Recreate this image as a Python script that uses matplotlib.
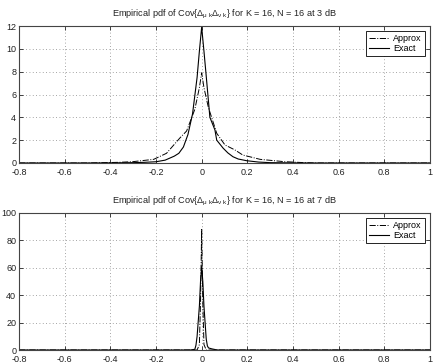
import matplotlib
matplotlib.use("Agg")
import matplotlib.pyplot as plt

plt.rcParams["font.family"] = ["Liberation Sans", "DejaVu Sans"]
plt.rcParams["mathtext.fontset"] = "custom"
plt.rcParams["mathtext.rm"] = "Liberation Sans"
plt.rcParams["mathtext.it"] = "Liberation Sans"

# top panel: 3 dB
x_exact_3 = [-0.8, -0.5, -0.4, -0.3, -0.25, -0.2, -0.16, -0.12, -0.1, -0.08, -0.06, -0.04,
             -0.02, -0.01, 0.0, 0.01, 0.02, 0.036, 0.058, 0.066, 0.094, 0.115, 0.137, 0.16,
             0.197, 0.25, 0.3, 0.4, 0.5, 1.0]
y_exact_3 = [0.0, 0.0, 0.01, 0.03, 0.06, 0.11, 0.25, 0.6, 0.85, 1.4, 2.5, 4.3,
             7.5, 9.8, 11.9, 9.8, 7.6, 4.0, 2.9, 2.0, 1.3, 0.88, 0.55, 0.35,
             0.2, 0.08, 0.03, 0.01, 0.0, 0.0]

x_approx_3 = [-0.8, -0.5, -0.45, -0.36, -0.3, -0.21, -0.154, -0.095, -0.066, -0.03, -0.01, 0.0,
              0.01, 0.029, 0.066, 0.102, 0.146, 0.18, 0.256, 0.36, 0.45, 0.5, 1.0]
y_approx_3 = [0.0, 0.0, 0.02, 0.06, 0.12, 0.32, 0.85, 2.2, 2.8, 4.7, 6.6, 7.9,
              6.6, 4.9, 2.6, 1.58, 1.14, 0.7, 0.32, 0.12, 0.03, 0.0, 0.0]

# bottom panel: 7 dB
x_exact_7 = [-0.8, -0.05, -0.03, -0.025, -0.02, -0.01, -0.005, 0.0, 0.005, 0.01, 0.02,
             0.025, 0.03, 0.045, 0.06, 0.07, 1.0]
y_exact_7 = [0.0, 0.0, 0.5, 3.5, 10, 32, 50, 61, 50, 32, 8,
             3, 1.5, 0.8, 0.3, 0.0, 0.0]

x_approx_7 = [-0.8, -0.02, -0.01, -0.005, 0.0, 0.005, 0.01, 0.02, 1.0]
y_approx_7 = [0.0, 0.0, 4, 35, 88, 35, 4, 0.0, 0.0]

xticks = [-0.8, -0.6, -0.4, -0.2, 0, 0.2, 0.4, 0.6, 0.8, 1]
xticklabels = ["-0.8", "-0.6", "-0.4", "-0.2", "0", "0.2", "0.4", "0.6", "0.8", "1"]
yticks_3 = [0, 2, 4, 6, 8, 10, 12]
yticks_7 = [0, 20, 40, 60, 80, 100]

title_fmt = r"Empirical pdf of Cov{$\Delta_{\mu\ k}\Delta_{\nu\ k}$} for K = 16, N = 16 at %d dB"

fig = plt.figure(figsize=(4.36, 3.64), dpi=100)
fig.patch.set_facecolor("white")
ax1 = fig.add_axes([19 / 436, 1 - 163 / 364, 411 / 436, 137 / 364])
ax2 = fig.add_axes([19 / 436, 1 - 350 / 364, 411 / 436, 137 / 364])


def style(ax, yticks, ymax, title):
    ax.set_xlim(-0.8, 1)
    ax.set_ylim(0, ymax)
    ax.set_xticks(xticks)
    ax.set_xticklabels(xticklabels)
    ax.set_yticks(yticks)
    ax.set_yticklabels([str(t) for t in yticks])
    ax.tick_params(direction="in", top=True, right=True, labelsize=6.5, length=3,
                   width=0.6, pad=2, colors="#222222")
    ax.tick_params(axis="x", pad=3.5)
    ax.grid(True, linestyle=(0, (1, 3)), color="#888888", linewidth=0.6)
    for s in ax.spines.values():
        s.set_color("#444444")
        s.set_linewidth(0.8)
    ax.set_title(title, fontsize=6.6, pad=7, color="#222222")
    leg = ax.legend(loc="upper right", fontsize=6.5, fancybox=False, framealpha=1,
                    edgecolor="black", borderpad=0.3, handlelength=2.2,
                    handletextpad=0.5, labelspacing=0.15, borderaxespad=0.6)
    leg.get_frame().set_linewidth(0.6)


ax1.plot(x_approx_3, y_approx_3, color="black", linestyle="-.", linewidth=0.7, label="Approx")
ax1.plot(x_exact_3, y_exact_3, color="black", linestyle="-", linewidth=0.8, label="Exact")
style(ax1, yticks_3, 12, title_fmt % 3)

ax2.plot(x_approx_7, y_approx_7, color="black", linestyle="-.", linewidth=0.7, label="Approx")
ax2.plot(x_exact_7, y_exact_7, color="black", linestyle="-", linewidth=0.8, label="Exact")
style(ax2, yticks_7, 100, title_fmt % 7)

fig.savefig("out.png", dpi=100, facecolor="white")
